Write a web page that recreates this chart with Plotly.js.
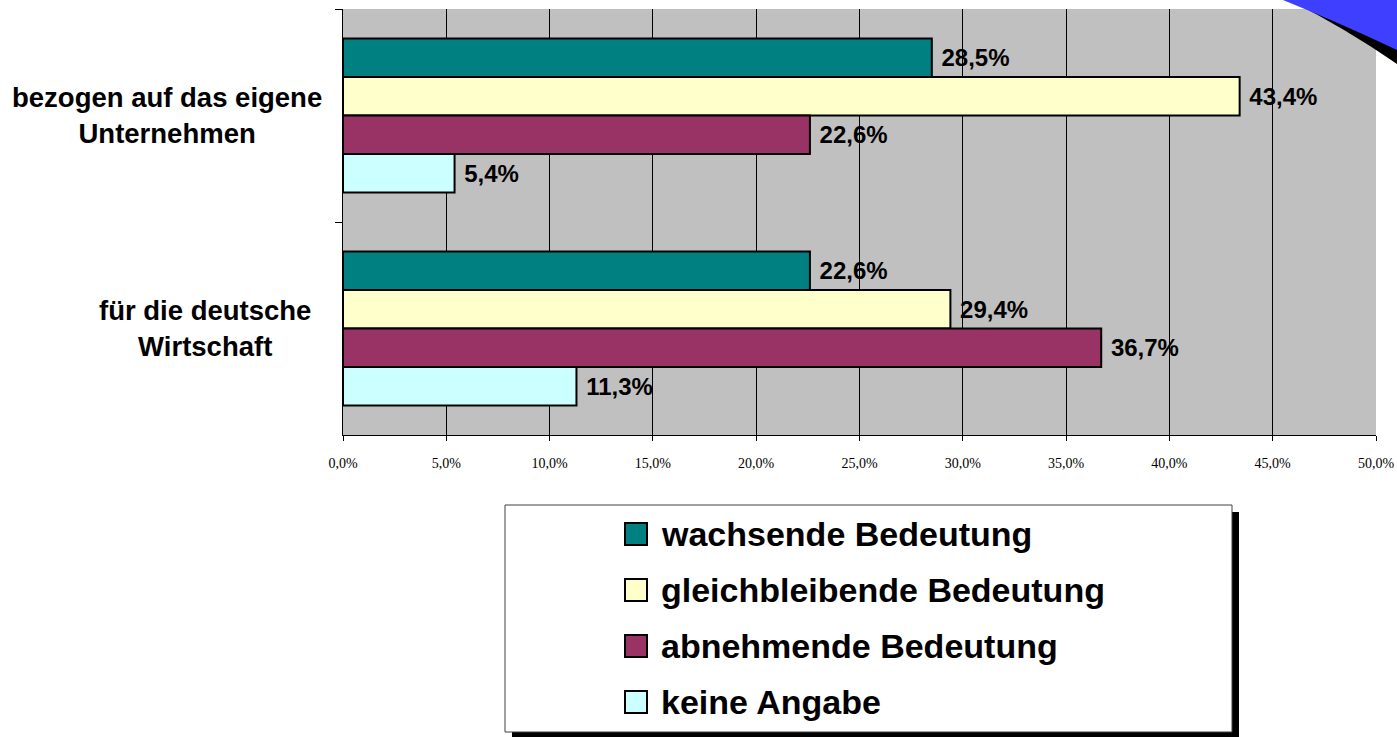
<!DOCTYPE html>
<html>
<head>
<meta charset="utf-8">
<script src="https://cdn.plot.ly/plotly-3.0.1.min.js"></script>
<style>html,body{margin:0;padding:0;background:#fff;}</style>
</head>
<body>
<div id="chart" style="width:1397px;height:737px;"></div>
<script>
// ---- data ----
const categories = ['bezogen auf das eigene<br>Unternehmen', 'für die deutsche<br>Wirtschaft'];
const seriesNames = ['wachsende Bedeutung', 'gleichbleibende Bedeutung', 'abnehmende Bedeutung', 'keine Angabe'];
const wachsende = [28.5, 22.6];
const gleichbleibende = [43.4, 29.4];
const abnehmende = [22.6, 36.7];
const keineAngabe = [5.4, 11.3];
const xTickVals = [0, 5, 10, 15, 20, 25, 30, 35, 40, 45, 50];
const xTickText = xTickVals.map(v => v.toFixed(1).replace('.', ',') + '%');

// ---- styles ----
const colors = ['#008080', '#FFFFCC', '#993366', '#CCFFFF'];
const seriesValues = [wachsende, gleichbleibende, abnehmende, keineAngabe];
const labelX = [167, 205]; // pixel centre of category labels

// plot area geometry in pixels
const L = 343, T = 9, W = 1033, H = 426;
const px = x => (x - L) / W;
const py = y => (T + H - y) / H;

const fmt = v => '\u00a0' + v.toFixed(1).replace('.', ',') + '%';

const traces = seriesValues.map((vals, i) => ({
  type: 'bar',
  orientation: 'h',
  name: seriesNames[i],
  y: categories,
  x: vals,
  marker: {color: colors[i], line: {color: '#000', width: 2}},
  text: vals.map(fmt),
  textposition: 'outside',
  constraintext: 'none',
  cliponaxis: false,
  textfont: {family: 'Liberation Sans, Arial, sans-serif', size: 24, color: '#000', weight: 700},
  hoverinfo: 'x+name'
}));

const shapes = [];
// decorative corner (blue page curl with black shadow)
shapes.push({type: 'path', xref: 'paper', yref: 'paper', layer: 'above',
  path: `M${px(1289)},${py(0)} Q${px(1345)},${py(28)} ${px(1397)},${py(64)} L${px(1397)},${py(0)} Z`,
  fillcolor: '#000', line: {width: 0}});
shapes.push({type: 'path', xref: 'paper', yref: 'paper', layer: 'above',
  path: `M${px(1283)},${py(0)} Q${px(1340)},${py(23)} ${px(1397)},${py(50)} L${px(1397)},${py(0)} Z`,
  fillcolor: '#3F3FFF', line: {width: 0}});

// custom legend box with shadow
shapes.push({type: 'rect', xref: 'paper', yref: 'paper', layer: 'above',
  x0: px(512), x1: px(1239), y0: py(512), y1: py(740), fillcolor: '#000', line: {width: 0}});
shapes.push({type: 'rect', xref: 'paper', yref: 'paper', layer: 'above',
  x0: px(505), x1: px(1232), y0: py(505), y1: py(732), fillcolor: '#fff', line: {color: '#404040', width: 1}});

const annotations = [];
seriesNames.forEach((name, i) => {
  const cy = 534 + i * 56;
  shapes.push({type: 'rect', xref: 'paper', yref: 'paper', layer: 'above',
    x0: px(625), x1: px(647), y0: py(cy - 11), y1: py(cy + 11),
    fillcolor: colors[i], line: {color: '#000', width: 2}});
  annotations.push({xref: 'paper', yref: 'paper', x: px(659), y: py(cy), xanchor: 'left', yanchor: 'middle',
    text: name, showarrow: false,
    font: {family: 'Liberation Sans, Arial, sans-serif', size: 34, color: '#000', weight: 700}});
});

// category labels (centred multi-line)
categories.forEach((c, i) => {
  annotations.push({xref: 'paper', yref: 'y', x: px(labelX[i]), y: c, xanchor: 'center', yanchor: 'middle',
    text: c, showarrow: false, align: 'center',
    font: {family: 'Liberation Sans, Arial, sans-serif', size: 27.5, color: '#000', weight: 700}});
});

const layout = {
  width: 1397, height: 737,
  margin: {l: L, r: 1397 - L - W, t: T, b: 737 - T - H, pad: 0},
  paper_bgcolor: '#fff',
  plot_bgcolor: '#C0C0C0',
  separators: ',.',
  showlegend: false,
  barmode: 'group',
  bargap: 0.277,
  bargroupgap: 0,
  xaxis: {
    range: [0, 50], tickmode: 'array', tickvals: xTickVals, ticktext: xTickText,
    showgrid: true, gridcolor: '#000', gridwidth: 1, zeroline: false,
    showline: true, linecolor: '#000', linewidth: 1,
    ticks: 'outside', ticklen: 5, tickcolor: '#000', tickwidth: 1,
    ticklabelstandoff: 10,
    tickfont: {family: 'Liberation Serif, Times New Roman, serif', size: 14, color: '#000'},
    fixedrange: true
  },
  yaxis: {
    type: 'category', autorange: 'reversed',
    showticklabels: false, showgrid: false, zeroline: false,
    showline: true, linecolor: '#000', linewidth: 1,
    ticks: 'outside', ticklen: 7, tickcolor: '#000', tickson: 'boundaries',
    fixedrange: true
  },
  shapes: shapes,
  annotations: annotations
};

Plotly.newPlot('chart', traces, layout, {displayModeBar: false, staticPlot: true});
</script>
</body>
</html>
